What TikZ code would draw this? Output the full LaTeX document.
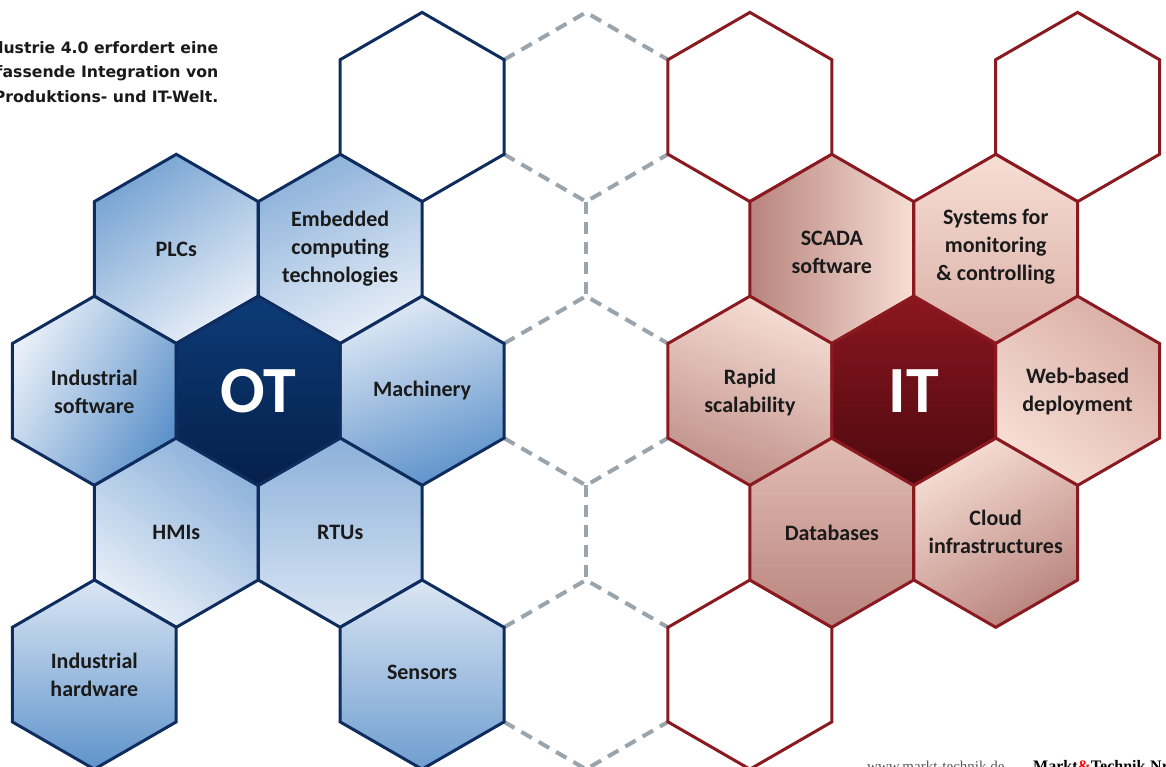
\documentclass[tikz,border=0pt]{standalone}
\usepackage{fontspec}
\setmainfont{Carlito}
\newfontfamily\capfont{DejaVu Sans}
\newfontfamily\footfont{Liberation Serif}

% palette
\definecolor{otline}{HTML}{0E2D5E}
\definecolor{itline}{HTML}{8A1A20}
\definecolor{gapgray}{HTML}{9AA4AC}
\definecolor{txt}{HTML}{1A1A1A}
\definecolor{bluedeep}{HTML}{5F93CB}
\definecolor{bluemid}{HTML}{8CB1DA}
\definecolor{bluepale}{HTML}{E8EFF8}
\definecolor{otdark}{HTML}{0D3B77}
\definecolor{otdarker}{HTML}{05204A}
\definecolor{reddeep}{HTML}{B8847D}
\definecolor{redmid}{HTML}{D9AEA5}
\definecolor{redpale}{HTML}{F7DED5}
\definecolor{itdark}{HTML}{8C1620}
\definecolor{itdarker}{HTML}{4C090E}
\definecolor{footgray}{HTML}{555555}

% one pointy-top honeycomb cell centred at (#1,#2), path options #3
\newcommand\hexcell[3]{%
  \path[shift={(#1,#2)},#3]
    (0,-94.6) -- (81.93,-47.3) -- (81.93,47.3) -- (0,94.6)
    -- (-81.93,47.3) -- (-81.93,-47.3) -- cycle;}

\begin{document}
\begin{tikzpicture}[x=1pt,y=-1pt,
  otcell/.style={draw=otline,line width=3pt,line join=miter},
  itcell/.style={draw=itline,line width=3pt,line join=miter},
  gapline/.style={draw=gapgray,line width=4pt,dash pattern=on 12pt off 8pt},
  lbl/.style={font=\bfseries\fontsize{22}{28}\selectfont,text=txt,align=center,inner sep=0pt},
  core/.style={font=\bfseries\fontsize{66}{66}\selectfont,text=white,inner sep=0pt}]

\useasboundingbox (0,0) rectangle (1166,767);
\clip (0,0) rectangle (1166,767);
\fill[white] (0,0) rectangle (1166,767);

% dashed empty cells of the middle column
\coordinate (g1t) at (586,12.4);
\coordinate (g1l) at (504.07,59.7);
\coordinate (g1r) at (667.93,59.7);
\coordinate (g1bl) at (504.07,154.3);
\coordinate (g1br) at (667.93,154.3);
\coordinate (g1b) at (586,201.6);
\coordinate (g3t) at (586,296.2);
\coordinate (g3l) at (504.07,343.5);
\coordinate (g3r) at (667.93,343.5);
\coordinate (g3bl) at (504.07,438.1);
\coordinate (g3br) at (667.93,438.1);
\coordinate (g3b) at (586,485.4);
\coordinate (g5t) at (586,580.0);
\coordinate (g5l) at (504.07,627.3);
\coordinate (g5r) at (667.93,627.3);
\coordinate (g5bl) at (504.07,721.9);
\coordinate (g5br) at (667.93,721.9);
\coordinate (g5b) at (586,769.2);
\draw[gapline] (g1l) -- (g1t) -- (g1r);
\draw[gapline] (g1bl) -- (g1b) -- (g1br);
\draw[gapline] (g1b) -- (g3t);
\draw[gapline] (g3l) -- (g3t) -- (g3r);
\draw[gapline] (g3bl) -- (g3b) -- (g3br);
\draw[gapline] (g3b) -- (g5t);
\draw[gapline] (g5l) -- (g5t) -- (g5r);
\draw[gapline] (g5bl) -- (g5b) -- (g5br);

% empty outlined cells
\hexcell{422.1}{107}{otcell,fill=white}
\hexcell{749.9}{107}{itcell,fill=white}
\hexcell{1077.6}{107}{itcell,fill=white}
\hexcell{749.9}{674.6}{itcell,fill=white}

% OT side
\hexcell{176.3}{248.9}{otcell,top color=bluedeep!85!white,bottom color=bluepale,shading angle=35}
\hexcell{340.2}{248.9}{otcell,top color=bluemid,bottom color=bluepale,shading angle=25}
\hexcell{94.3}{390.8}{otcell,top color=bluepale,bottom color=bluedeep,shading angle=60}
\hexcell{422.1}{390.8}{otcell,top color=bluepale!90!bluemid,bottom color=bluedeep,shading angle=20}
\hexcell{176.3}{532.7}{otcell,top color=bluemid,bottom color=bluepale,shading angle=-35}
\hexcell{340.2}{532.7}{otcell,top color=bluemid,bottom color=bluepale!85!bluemid,shading angle=0}
\hexcell{94.3}{674.6}{otcell,top color=bluepale!85!bluemid,bottom color=bluedeep,shading angle=0}
\hexcell{422.1}{674.6}{otcell,top color=bluepale!85!bluemid,bottom color=bluedeep!90!white,shading angle=0}
\hexcell{258.2}{390.8}{otcell,top color=otdark,bottom color=otdarker}

% IT side
\hexcell{831.8}{248.9}{itcell,left color=reddeep,right color=redpale}
\hexcell{995.7}{248.9}{itcell,top color=redpale,bottom color=redmid,shading angle=0}
\hexcell{749.9}{390.8}{itcell,top color=redpale,bottom color=reddeep!90!white,shading angle=-20}
\hexcell{1077.6}{390.8}{itcell,top color=redmid,bottom color=redpale,shading angle=-40}
\hexcell{831.8}{532.7}{itcell,top color=redmid!70!redpale,bottom color=reddeep,shading angle=0}
\hexcell{995.7}{532.7}{itcell,top color=redpale,bottom color=reddeep,shading angle=30}
\hexcell{913.7}{390.8}{itcell,top color=itdark,bottom color=itdarker}

% labels
\node[lbl] (plcs) at (176.3,248.9) {PLCs};
\node[lbl] (embedded) at (340.2,248.9) {Embedded\\computing\\technologies};
\node[lbl] (indsw) at (94.3,391.5) {Industrial\\software};
\node[core] (ot) at (258.2,390.8) {OT};
\node[lbl] (machinery) at (422.1,390.8) {Machinery};
\node[lbl] (hmis) at (176.3,532.7) {HMIs};
\node[lbl] (rtus) at (340.2,532.7) {RTUs};
\node[lbl] (indhw) at (94.3,674.6) {Industrial\\hardware};
\node[lbl] (sensors) at (422.1,672.6) {Sensors};

\node[lbl] (scada) at (831.8,252) {SCADA\\software};
\node[lbl] (systems) at (995.7,247) {Systems for\\monitoring\\\& controlling};
\node[lbl] (rapid) at (749.9,393) {Rapid\\scalability};
\node[core] (it) at (913.7,390.8) {IT};
\node[lbl] (web) at (1077.6,391.5) {Web-based\\deployment};
\node[lbl] (db) at (831.8,532.7) {Databases};
\node[lbl] (cloud) at (995.7,531.5) {Cloud\\infrastructures};

% caption and footer
\node[anchor=north east,align=right,inner sep=0pt,text=txt,
      font=\capfont\bfseries\fontsize{15.7}{24.5}\selectfont] (caption) at (218.5,41)
  {Industrie 4.0 erfordert eine\\umfassende Integration von\\Produktions- und IT-Welt.};
\node[anchor=base west,inner sep=0pt,text=footgray,font=\footfont\fontsize{15}{15}\selectfont]
  (site) at (867,771.5) {www.markt-technik.de};
\node[anchor=base west,inner sep=0pt,text=black,font=\footfont\bfseries\fontsize{16}{16}\selectfont]
  (mag) at (1033,771.5) {Markt\textcolor{red}{\&}Technik};
\node[anchor=base west,inner sep=0pt,text=black,font=\footfont\bfseries\fontsize{16}{16}\selectfont]
  (issue) at (1150,771.5) {Nr.};
\end{tikzpicture}
\end{document}
